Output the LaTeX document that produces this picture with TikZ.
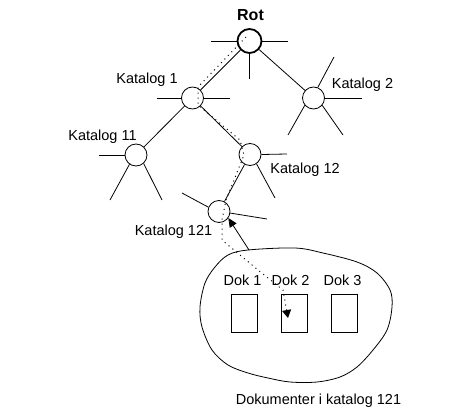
\documentclass[tikz,border=0pt]{standalone}
\usepackage{fontspec}
\setmainfont{Liberation Sans}
\usetikzlibrary{arrows.meta}
\begin{document}
\begin{tikzpicture}[x=1pt,y=-1pt,
  dir/.style={circle,draw,minimum size=22pt,inner sep=0pt,line width=0.8pt},
  rootdir/.style={dir,minimum size=24pt,line width=1.8pt},
  ray/.style={line width=0.8pt},
  link/.style={line width=0.8pt},
  lbl/.style={font=\fontsize{14.5}{16}\selectfont,inner sep=0pt,anchor=base},
  doc/.style={draw,line width=0.8pt,minimum width=26pt,minimum height=38pt,inner sep=0pt},
  trail/.style={line width=1pt,dash pattern=on 1pt off 4pt},
]
\useasboundingbox (0,0) rectangle (468,417);
% directory nodes
\node[rootdir] (rot) at (249.5,41) {};
\node[dir] (k1) at (192.5,98) {};
\node[dir] (k2) at (313.5,98) {};
\node[dir] (k11) at (136,155) {};
\node[dir] (k12) at (250,154.5) {};
\node[dir] (k121) at (219,211.5) {};
% labels
\node[lbl,font=\fontsize{16}{18}\selectfont\bfseries] (lrot) at (250.5,21) {Rot};
\node[lbl] (lk1) at (147,84) {Katalog 1};
\node[lbl] (lk2) at (362.5,89) {Katalog 2};
\node[lbl] (lk11) at (102.5,140) {Katalog 11};
\node[lbl] (lk12) at (305,173) {Katalog 12};
\node[lbl] (lk121) at (173.5,235) {Katalog 121};
% rays
\draw[ray] (rot.west) -- ++(-25.5,0);
\draw[ray] (rot.east) -- ++(25.5,0);
\draw[ray] (rot.south) -- ++(0,25);
\draw[ray] (k1.west) -- ++(-24.5,0);
\draw[ray] (k1.east) -- ++(26.5,0);
\draw[ray] (k2.east) -- ++(37.5,0);
\draw[ray] (k2.68) -- (334,57);
\draw[ray] (k2.220) -- (288,135);
\draw[ray] (k2.320) -- (343,135);
\draw[ray] (k11.west) -- ++(-26,0);
\draw[ray] (k11.235) -- (110,200);
\draw[ray] (k11.312) -- (162,200);
\draw[ray] (k12.east) -- (287,154);
\draw[ray] (k12.305) -- (275,198);
\draw[ray] (k121.158) -- (182,193);
\draw[ray] (k121.352) -- (267,219);
% tree edges
\draw[link] (rot) -- (k1);
\draw[link] (rot) -- (k2);
\draw[link] (k1) -- (k11);
\draw[link] (k1) -- (k12);
\draw[link] (k12) -- (k121);
% documents area
\draw[line width=0.8pt] plot[smooth cycle,tension=0.55] coordinates {
  (248,250) (295,248) (323,253) (357,262) (377,273) (390,290) (392,307)
  (387,330) (373,350) (357,367) (340,377) (317,382) (290,382) (268,378)
  (248,373) (228,365) (212,350) (202,327) (200,307) (205,283) (215,267) (228,255)};
\coordinate (blobtop) at (249,250);
\node[doc] (d1) at (244.5,313) {};
\node[doc] (d2) at (294,313) {};
\node[doc] (d3) at (344,313) {};
\node[lbl] (ld1) at (242.5,285) {Dok 1};
\node[lbl] (ld2) at (290.5,285) {Dok 2};
\node[lbl] (ld3) at (342.5,285) {Dok 3};
\node[lbl] (ldok) at (318.5,404) {Dokumenter i katalog 121};
% arrow from documents to directory
\draw[link,-{Triangle[length=9pt,width=8pt]}] (blobtop) -- (k121.-35);
% dotted trail
\draw[trail,-{Triangle[length=8pt,width=9pt]}] (246,37) -- (198,87) -- (198,105) -- (240,140) -- (244,155) -- (226,200) -- (222,220) -- (222,240) -- (258,270) -- (283,290) -- (288,318);
\end{tikzpicture}
\end{document}
